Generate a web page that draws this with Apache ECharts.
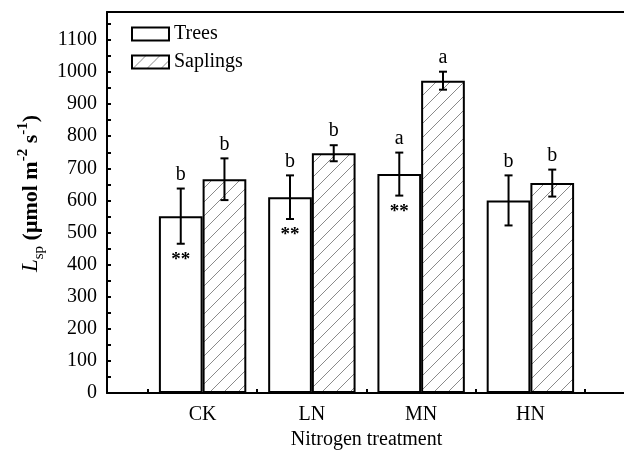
<!DOCTYPE html>
<html><head><meta charset="utf-8">
<script src="https://cdn.jsdelivr.net/npm/echarts@6/dist/echarts.min.js"></script>
<style>html,body{margin:0;padding:0;background:#fff}#c{width:624px;height:453px}</style>
</head><body><div id="c"></div>
<script>
const categories = ['CK', 'LN', 'MN', 'HN'];
const treesMean = [551, 610, 682, 600];
const treesErr = [86, 68, 67, 78];
const saplingsMean = [666, 747, 973, 654];
const saplingsErr = [65, 25, 28, 42];
const treesLetters = ['b', 'b', 'a', 'b'];
const saplingsLetters = ['b', 'b', 'a', 'b'];
const treesStars = ['**', '**', '**', ''];
const yTicks = [0, 100, 200, 300, 400, 500, 600, 700, 800, 900, 1000, 1100];

const FONT = "'Liberation Serif','Times New Roman',serif";

// hatch pattern
const pc = document.createElement('canvas');
pc.width = 14; pc.height = 14;
const g = pc.getContext('2d');
g.fillStyle = '#fff'; g.fillRect(0, 0, 14, 14);
g.strokeStyle = '#8a8a8a'; g.lineWidth = 1;
g.beginPath();
g.moveTo(-1, 15); g.lineTo(15, -1);
g.moveTo(-1, 1); g.lineTo(1, -1);
g.moveTo(13, 15); g.lineTo(15, 13);
g.stroke();
const hatch = { image: pc, repeat: 'repeat' };

const xs = categories.map((c, i) => i + 1);

function errSeries(name, means, errs, letters, stars, off) {
  return {
    type: 'custom',
    name: name + '_err',
    silent: true,
    z: 5,
    data: xs.map((x, i) => [x, means[i] - errs[i], means[i] + errs[i], i]),
    renderItem: function (params, api) {
      const x = api.value(0) + off;
      const i = api.value(3);
      const top = api.coord([x, api.value(2)]);
      const bot = api.coord([x, api.value(1)]);
      const cw = 4;
      const st = { stroke: '#000', lineWidth: 2 };
      const ch = [
        { type: 'line', shape: { x1: top[0], y1: top[1], x2: bot[0], y2: bot[1] }, style: st },
        { type: 'line', shape: { x1: top[0] - cw, y1: top[1], x2: top[0] + cw, y2: top[1] }, style: st },
        { type: 'line', shape: { x1: bot[0] - cw, y1: bot[1], x2: bot[0] + cw, y2: bot[1] }, style: st },
        { type: 'text', style: { x: top[0], y: top[1] - 4, text: letters[i], align: 'center', verticalAlign: 'bottom', font: '20px ' + FONT, fill: '#000' } }
      ];
      if (stars && stars[i]) {
        ch.push({ type: 'text', style: { x: bot[0], y: bot[1] + 7, text: stars[i], align: 'center', verticalAlign: 'top', font: 'bold 19px ' + FONT, fill: '#000' } });
      }
      return { type: 'group', children: ch };
    }
  };
}

const chart = echarts.init(document.getElementById('c'), null, { renderer: 'canvas' });
chart.setOption({
  animation: false,
  backgroundColor: '#fff',
  textStyle: { fontFamily: FONT },
  grid: { left: 107, top: 12, right: -2, bottom: 60, containLabel: false, outerBoundsMode: 'none' },
  legend: {
    orient: 'vertical', left: 131, top: 23, padding: 0, itemWidth: 37, itemHeight: 13, itemGap: 6,
    icon: 'rect',
    data: ['Trees', 'Saplings'],
    textStyle: { fontFamily: FONT, fontSize: 20, color: '#000', lineHeight: 22 }
  },
  xAxis: [{
    type: 'value', min: 0.125, max: 4.875,
    name: 'Nitrogen treatment', nameLocation: 'middle', nameGap: 37,
    nameTextStyle: { fontFamily: FONT, fontSize: 20, color: '#000' },
    axisLine: { show: true, lineStyle: { color: '#000', width: 2 } },
    axisTick: { show: true, inside: true, length: 4, customValues: [0.5, 1.5, 2.5, 3.5, 4.5], lineStyle: { color: '#000', width: 2 } },
    axisLabel: { customValues: xs, formatter: v => categories[Math.round(v) - 1] || '', color: '#000', fontFamily: FONT, fontSize: 20, margin: 12 },
    splitLine: { show: false }
  }, {
    type: 'value', position: 'top', min: 0.125, max: 4.875,
    axisLine: { show: true, onZero: false, lineStyle: { color: '#000', width: 2 } },
    axisTick: { show: false }, axisLabel: { show: false }, splitLine: { show: false }
  }],
  yAxis: {
    type: 'value', min: 0, max: 1187, interval: 50,
    name: '{i|L}{sub|sp}{b| (μmol m}{sup|-2}{b| s}{sup|-1}{b|)}',
    nameLocation: 'middle', nameGap: 60, nameRotate: 90,
    nameTextStyle: {
      color: '#000', fontFamily: FONT, padding: [0, 0, 0, 18],
      rich: {
        i: { fontStyle: 'italic', fontSize: 23, fontFamily: FONT, color: '#000', lineHeight: 30, verticalAlign: 'middle' },
        sub: { fontSize: 15, fontFamily: FONT, color: '#000', verticalAlign: 'bottom', lineHeight: 30 },
        b: { fontSize: 22, fontWeight: 'bold', fontFamily: FONT, color: '#000', lineHeight: 30, verticalAlign: 'middle' },
        sup: { fontSize: 15, fontWeight: 'bold', fontFamily: FONT, color: '#000', verticalAlign: 'top', lineHeight: 30 }
      }
    },
    axisLine: { show: true, lineStyle: { color: '#000', width: 2 } },
    axisTick: { show: true, inside: true, length: 4, lineStyle: { color: '#000', width: 2 } },
    axisLabel: { formatter: v => (yTicks.indexOf(v) >= 0 ? String(v) : ''), color: '#000', fontFamily: FONT, fontSize: 20, margin: 10 },
    splitLine: { show: false }
  },
  series: [
    {
      type: 'bar', name: 'Trees', barWidth: '40%', barGap: '0%',
      data: xs.map((x, i) => [x, treesMean[i]]),
      itemStyle: { color: '#fff', borderColor: '#000', borderWidth: 2 }
    },
    {
      type: 'bar', name: 'Saplings', barWidth: '40%', barGap: '0%',
      data: xs.map((x, i) => [x, saplingsMean[i]]),
      itemStyle: { color: hatch, borderColor: '#000', borderWidth: 2 }
    },
    errSeries('Trees', treesMean, treesErr, treesLetters, treesStars, -0.2),
    errSeries('Saplings', saplingsMean, saplingsErr, saplingsLetters, null, 0.2)
  ]
});
</script></body></html>
